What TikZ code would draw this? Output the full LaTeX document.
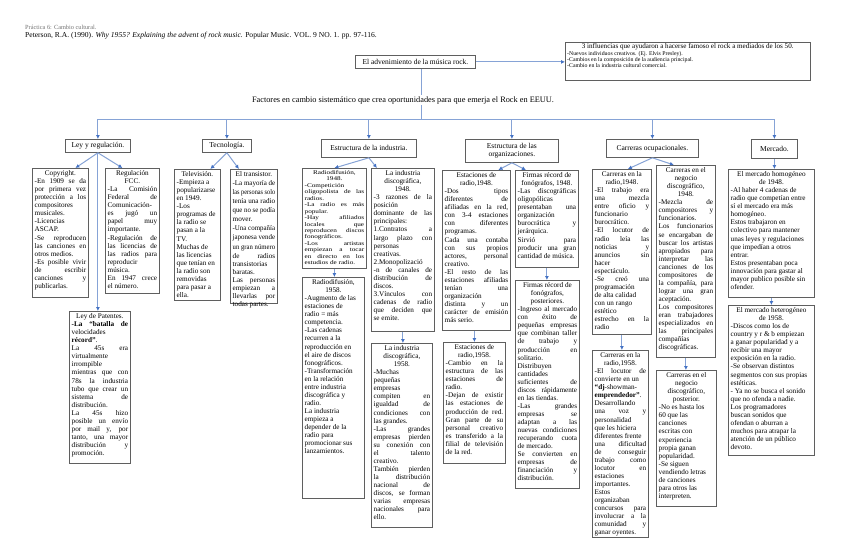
\documentclass[tikz,border=0pt]{standalone}
\usepackage{fontspec}
\usepackage{graphicx}
\setmainfont{Liberation Serif}
\usetikzlibrary{arrows.meta,calc}
\definecolor{lineblue}{RGB}{134,163,214}
\definecolor{tipblue}{RGB}{68,114,196}
\definecolor{framec}{RGB}{95,95,95}
\hbadness=10000 \hfuzz=100pt \vbadness=10000 \vfuzz=100pt
\newcommand\bodyfont{\fontsize{7.2}{8.05}\selectfont}
\newcommand\catfont{\fontsize{7.5}{8.6}\selectfont}
\newcommand\Jn[1]{\setbox0=\hbox{\strut#1}\ifdim\wd0>\hsize\hbox to\hsize{\resizebox{\hsize}{\height}{\box0}}\else\hbox to\hsize{\strut#1}\fi}
\newcommand\Ln[1]{\setbox0=\hbox{\strut#1}\ifdim\wd0>\hsize\hbox to\hsize{\resizebox{\hsize}{\height}{\box0}}\else\hbox to\hsize{\box0\hfil}\fi}
\newcommand\Cn[1]{\setbox0=\hbox{\strut#1}\ifdim\wd0>\hsize\hbox to\hsize{\resizebox{\hsize}{\height}{\box0}}\else\hbox to\hsize{\hfil\box0\hfil}\fi}
\tikzset{
  conn/.style={draw=lineblue, line width=1pt},
  arr/.style={conn, -{Latex[length=4pt,width=4pt,color=tipblue]}},
  frame/.style={draw=framec, line width=0.8pt, inner sep=0pt},
  txt/.style={inner sep=0pt, font=\bodyfont},
}
\newcommand\mybox[7][1]{%
  \pgfmathsetmacro\myW{#5-#3}%
  \pgfmathsetmacro\myH{#6-#4}%
  \pgfmathsetmacro\myT{#5-#3-4.5}%
  \node[frame, minimum width=\myW pt, minimum height=\myH pt, anchor=north west] (#2) at (#3,#4) {};
  \node[txt, anchor=north] (#2-t) at ([yshift=-1.8pt]#2.north) {\scalebox{1}[#1]{\vtop{\hsize=\myT pt\relax#7}}};%
}
\newcommand\catbox[6]{%
  \pgfmathsetmacro\myW{#4-#2}\pgfmathsetmacro\myH{#5-#3}%
  \node[frame, font=\catfont, align=center, minimum width=\myW pt, minimum height=\myH pt, anchor=north west] (#1) at (#2,#3) {#6};%
}
\begin{document}
\begin{tikzpicture}[x=1pt,y=-1pt]
\useasboundingbox (0,0) rectangle (848,549);
\fill[white] (0,0) rectangle (848,549);

% header
\node[anchor=base west, inner sep=0pt, font=\fontsize{6.3}{7}\selectfont, text=black!55] (prac) at (25,29.5) {Práctica 6: Cambio cultural.};
\node[anchor=base west, inner sep=0pt, font=\fontsize{7.55}{8}\selectfont] (refe) at (25,37.8) {Peterson, R.A. (1990). \textit{Why 1955? Explaining the advent of rock music.} Popular Music. VOL. 9 NO. 1. pp. 97-116.};

% top
\catbox{adv}{355}{55}{475}{68}{El advenimiento de la música rock.}
\node[frame, minimum width=245pt, minimum height=38pt, anchor=north west] (inf) at (565,42) {};
\node[inner sep=0pt, anchor=north west] (inf-t) at ([xshift=2pt,yshift=-1.5pt]inf.north west) {\vtop{\hsize=241pt \fontsize{5.8}{6.4}\selectfont
  \Cn{\fontsize{7.1}{8}\selectfont 3 influencias que ayudaron a hacerse famoso el rock a mediados de los 50.}
  \Ln{-Nuevos individuos creativos. (Ej. Elvis Presley).}
  \Ln{-Cambios en la composición de la audiencia principal.}
  \Ln{-Cambio en la industria cultural comercial.}}};

\node[inner sep=1.5pt, anchor=base, font=\fontsize{8.3}{9}\selectfont] (head) at (403,102) {Factores en cambio sistemático que crea oportunidades para que emerja el Rock en EEUU.};
\coordinate (tk) at (421,0);
\coordinate (bar) at (0,119);

% categories
\catbox{ley}{65}{139}{130}{152}{Ley y regulación.}
\catbox{tec}{202}{139}{251}{152}{Tecnología.}
\catbox{ind}{321}{139}{416}{157}{Estructura de la industria.}
\catbox{org}{465}{139}{558}{162}{Estructura de las\\organizaciones.}
\catbox{car}{606}{139}{698}{157}{Carreras ocupacionales.}
\catbox{merc}{751}{139}{797}{158}{Mercado.}

% column 1
\mybox{copy}{32}{168}{88}{297}{%
\Cn{Copyright.}
\Jn{-En 1909 se da}
\Jn{por primera vez}
\Jn{protección a los}
\Ln{compositores}
\Ln{musicales.}
\Ln{-Licencias}
\Ln{ASCAP.}
\Jn{-Se reproducen}
\Jn{las canciones en}
\Ln{otros medios.}
\Jn{-Es posible vivir}
\Jn{de escribir}
\Jn{canciones y}
\Ln{publicarlas.}}
\mybox{fcc}{105}{168}{159}{293}{%
\Cn{Regulación}
\Cn{FCC.}
\Jn{-La Comisión}
\Jn{Federal de}
\Ln{Comunicación-}
\Jn{es jugó un}
\Jn{papel muy}
\Ln{importante.}
\Jn{-Regulación de}
\Jn{las licencias de}
\Jn{las radios para}
\Ln{reproducir}
\Ln{música.}
\Jn{En 1947 crece}
\Ln{el número.}}
\mybox{pat}{69}{311}{130}{463}{%
\Cn{Ley de Patentes.}
\Jn{\textbf{-La “batalla de}}
\Ln{velocidades}
\Ln{\textbf{récord”}.}
\Jn{La 45s era}
\Ln{virtualmente}
\Ln{irrompible}
\Jn{mientras que con}
\Jn{78s la industria}
\Jn{tubo que crear un}
\Jn{sistema de}
\Ln{distribución.}
\Jn{La 45s hizo}
\Jn{posible un envío}
\Jn{por mail y, por}
\Jn{tanto, una mayor}
\Jn{distribución y}
\Ln{promoción.}}

% column 2
\mybox{tv}{174}{169}{220}{300}{%
\Cn{Televisión.}
\Ln{-Empieza a}
\Ln{popularizarse}
\Ln{en 1949.}
\Ln{-Los}
\Ln{programas de}
\Ln{la radio se}
\Ln{pasan a la}
\Ln{TV.}
\Ln{Muchas de}
\Ln{las licencias}
\Ln{que tenían en}
\Ln{la radio son}
\Ln{removidas}
\Ln{para pasar a}
\Ln{ella.}}
\mybox{tra}{230}{169}{277}{303}{%
\Cn{El transistor.}
\Jn{-La mayoría de}
\Jn{las personas solo}
\Jn{tenía una radio}
\Jn{que no se podía}
\Ln{mover.}
\Jn{-Una compañía}
\Jn{japonesa vende}
\Jn{un gran número}
\Jn{de radios}
\Ln{transistorias}
\Ln{baratas.}
\Jn{Las personas}
\Jn{empiezan a}
\Jn{llevarlas por}
\Ln{todas partes.}}

% column 3
\mybox[0.8]{r48}{302}{168}{366}{268}{%
\Cn{Radiodifusión,}
\Cn{1948.}
\Ln{-Competición}
\Jn{oligopolista de las}
\Ln{radios.}
\Jn{-La radio es más}
\Ln{popular.}
\Jn{-Hay afiliados}
\Jn{locales que}
\Jn{reproducen discos}
\Ln{fonográficos.}
\Jn{-Los artistas}
\Jn{empiezan a tocar}
\Jn{en directo en los}
\Ln{estudios de radio.}}
\mybox{d48}{371}{168}{434}{331}{%
\Cn{La industria}
\Cn{discográfica,}
\Cn{1948.}
\Jn{-3 razones de la}
\Ln{posición}
\Jn{dominante de las}
\Ln{principales:}
\Jn{1.Contratos a}
\Jn{largo plazo con}
\Ln{personas}
\Ln{creativas.}
\Ln{2.Monopolizació}
\Jn{-n de canales de}
\Jn{distribución de}
\Ln{discos.}
\Jn{3.Vínculos con}
\Jn{cadenas de radio}
\Jn{que deciden que}
\Ln{se emite.}}
\mybox{r58}{302}{277}{364}{498}{%
\Cn{Radiodifusión,}
\Cn{1958.}
\Ln{-Augmento de las}
\Ln{estaciones de}
\Ln{radio = más}
\Ln{competencia.}
\Ln{-Las cadenas}
\Ln{recurren a la}
\Ln{reproducción en}
\Ln{el aire de discos}
\Ln{fonográficos.}
\Ln{-Transformación}
\Ln{en la relación}
\Ln{entre industria}
\Ln{discográfica y}
\Ln{radio.}
\Ln{La industria}
\Ln{empieza a}
\Ln{depender de la}
\Ln{radio para}
\Ln{promocionar sus}
\Ln{lanzamientos.}}
\mybox{d58}{371}{343}{432}{527}{%
\Cn{La industria}
\Cn{discográfica,}
\Cn{1958.}
\Ln{-Muchas}
\Ln{pequeñas}
\Ln{empresas}
\Jn{compiten en}
\Jn{igualdad de}
\Jn{condiciones con}
\Ln{las grandes.}
\Jn{-Las grandes}
\Jn{empresas pierden}
\Jn{su conexión con}
\Jn{el talento}
\Ln{creativo.}
\Jn{También pierden}
\Jn{la distribución}
\Jn{nacional de}
\Jn{discos, se forman}
\Jn{varias empresas}
\Jn{nacionales para}
\Ln{ello.}}

% column 4
\mybox{e48}{442}{170}{510}{330}{%
\Cn{Estaciones de}
\Cn{radio,1948.}
\Jn{-Dos tipos}
\Jn{diferentes de}
\Jn{afiliadas en la red,}
\Jn{con 3-4 estaciones}
\Jn{con diferentes}
\Ln{programas.}
\Jn{Cada una contaba}
\Jn{con sus propios}
\Jn{actores, personal}
\Ln{creativo.}
\Jn{-El resto de las}
\Jn{estaciones afiliadas}
\Jn{tenían una}
\Ln{organización}
\Jn{distinta y un}
\Jn{carácter de emisión}
\Ln{más serio.}}
\mybox{f48}{515}{170}{578}{267}{%
\Cn{Firmas récord de}
\Cn{fonógrafos, 1948.}
\Jn{-Las discográficas}
\Ln{oligopólicas}
\Jn{presentaban una}
\Ln{organización}
\Jn{burocrática y}
\Ln{jerárquica.}
\Jn{Sirvió para}
\Jn{producir una gran}
\Ln{cantidad de música.}}
\mybox{e58}{443}{342}{505}{463}{%
\Cn{Estaciones de}
\Cn{radio,1958.}
\Jn{-Cambio en la}
\Jn{estructura de las}
\Jn{estaciones de}
\Ln{radio.}
\Jn{-Dejan de existir}
\Jn{las estaciones de}
\Jn{producción de red.}
\Jn{Gran parte de su}
\Jn{personal creativo}
\Jn{es transferido a la}
\Jn{filial de televisión}
\Ln{de la red.}}
\mybox{fpo}{515}{280}{579}{488}{%
\Cn{Firmas récord de}
\Cn{fonógrafos,}
\Cn{posteriores.}
\Jn{-Ingreso al mercado}
\Jn{con éxito de}
\Jn{pequeñas empresas}
\Jn{que combinan taller}
\Jn{de trabajo y}
\Jn{producción en}
\Ln{solitario.}
\Ln{Distribuyen}
\Ln{cantidades}
\Jn{suficientes de}
\Jn{discos rápidamente}
\Ln{en las tiendas.}
\Jn{-Las grandes}
\Jn{empresas se}
\Jn{adaptan a las}
\Jn{nuevas condiciones}
\Jn{recuperando cuota}
\Ln{de mercado.}
\Jn{Se convierten en}
\Jn{empresas de}
\Jn{financiación y}
\Ln{distribución.}}

% column 5
\mybox{cr48}{592}{169}{651}{334}{%
\Cn{Carreras en la}
\Cn{radio,1948.}
\Jn{-El trabajo era}
\Jn{una mezcla}
\Jn{entre oficio y}
\Ln{funcionario}
\Ln{burocrático.}
\Jn{-El locutor de}
\Jn{radio leía las}
\Jn{noticias y}
\Jn{anuncios sin}
\Ln{hacer}
\Ln{espectáculo.}
\Jn{-Se creó una}
\Ln{programación}
\Ln{de alta calidad}
\Ln{con un rango}
\Ln{estético}
\Jn{estrecho en la}
\Ln{radio}}
\mybox{cn48}{656}{165}{715}{357}{%
\Cn{Carreras en el}
\Cn{negocio}
\Cn{discográfico,}
\Cn{1948.}
\Jn{-Mezcla de}
\Jn{compositores y}
\Ln{funcionarios.}
\Jn{Los funcionarios}
\Jn{se encargaban de}
\Jn{buscar los artistas}
\Jn{apropiados para}
\Jn{interpretar las}
\Jn{canciones de los}
\Jn{compositores de}
\Jn{la compañía, para}
\Jn{lograr una gran}
\Ln{aceptación.}
\Jn{Los compositores}
\Jn{eran trabajadores}
\Jn{especializados en}
\Jn{las principales}
\Ln{compañías}
\Ln{discográficas.}}
\mybox{cr58}{592}{350}{648}{537}{%
\Cn{Carreras en la}
\Cn{radio,1958.}
\Jn{-El locutor de}
\Ln{convierte en un}
\Ln{\textbf{“dj}-showman-}
\Ln{\textbf{emprendedor”}.}
\Ln{Desarrollando}
\Jn{una voz y}
\Ln{personalidad}
\Ln{que les hiciera}
\Ln{diferentes frente}
\Jn{una dificultad}
\Jn{de conseguir}
\Jn{trabajo como}
\Jn{locutor en}
\Ln{estaciones}
\Ln{importantes.}
\Ln{Estos}
\Ln{organizaban}
\Jn{concursos para}
\Jn{involucrar a la}
\Jn{comunidad y}
\Ln{ganar oyentes.}}
\mybox{cnp}{656}{370}{716}{506}{%
\Cn{Carreras en el}
\Cn{negocio}
\Cn{discográfico,}
\Cn{posterior.}
\Ln{-No es hasta los}
\Ln{60 que las}
\Ln{canciones}
\Ln{escritas con}
\Ln{experiencia}
\Ln{propia ganan}
\Ln{popularidad.}
\Ln{-Se siguen}
\Ln{vendiendo letras}
\Ln{de canciones}
\Ln{para otros las}
\Ln{interpreten.}}

% column 6
\mybox{hom}{728}{169}{814}{297}{%
\Cn{El mercado homogéneo}
\Cn{de 1948.}
\Ln{-Al haber 4 cadenas de}
\Ln{radio que competían entre}
\Ln{sí el mercado era más}
\Ln{homogéneo.}
\Ln{Estos trabajaron en}
\Ln{colectivo para mantener}
\Ln{unas leyes y regulaciones}
\Ln{que impedían a otros}
\Ln{entrar.}
\Ln{Estos presentaban poca}
\Ln{innovación para gastar al}
\Ln{mayor publico posible sin}
\Ln{ofender.}}
\mybox{het}{728}{305}{814}{455}{%
\Cn{El mercado heterogéneo}
\Cn{de 1958.}
\Ln{-Discos como los de}
\Ln{country y r \& b empiezan}
\Ln{a ganar popularidad y a}
\Ln{recibir una mayor}
\Ln{exposición en la radio.}
\Ln{-Se observan distintos}
\Ln{segmentos con sus propias}
\Ln{estéticas.}
\Ln{- Ya no se busca el sonido}
\Ln{que no ofenda a nadie.}
\Ln{Los programadores}
\Ln{buscan sonidos que}
\Ln{ofendan o aburran a}
\Ln{muchos para atrapar la}
\Ln{atención de un público}
\Ln{devoto.}}

% connectors
\draw[arr] (adv.east) -- (adv.east -| inf.west);
\draw[conn] (adv.south -| tk) -- (head.north -| tk);
\draw[conn] (head.south -| tk) -- (bar -| tk);
\draw[conn] (bar -| ley.north) -- (bar -| merc.north);
\foreach \n in {ley,tec,ind,org,car,merc} \draw[arr] (bar -| \n.north) -- (\n.north);

\draw[arr] (ley.south) -- ([xshift=15pt]copy.north);
\draw[arr] (ley.south) -- ([xshift=-10pt]fcc.north);
\draw[arr] (ley.south) -- (ley.south |- pat.north);
\draw[arr] (tec.south) -- ([xshift=13pt]tv.north);
\draw[arr] (tec.south) -- ([xshift=-15pt]tra.north);
\draw[arr] (ind.south) -- (r48.north);
\draw[arr] (ind.south) -- ([xshift=-26pt]d48.north);
\draw[arr] (r48.south) -- (r48.south |- r58.north);
\draw[arr] (d48.south) -- (d48.south |- d58.north);
\draw[arr] (org.south) -- ([xshift=22pt]e48.north);
\draw[arr] (org.south) -- ([xshift=-21pt]f48.north);
\draw[arr] (e58.north |- e48.south) -- (e58.north);
\draw[arr] (f48.south) -- (f48.south |- fpo.north);
\draw[arr] (car.south) -- ([xshift=6pt]cr48.north);
\draw[arr] (car.south) -- ([xshift=-12pt]cn48.north);
\draw[arr] (cr48.south) -- (cr48.south |- cr58.north);
\draw[arr] (cn48.south) -- (cn48.south |- cnp.north);
\draw[arr] (merc.south) -- (merc.south |- hom.north);
\draw[arr] (hom.south) -- (hom.south |- het.north);
\end{tikzpicture}
\end{document}
